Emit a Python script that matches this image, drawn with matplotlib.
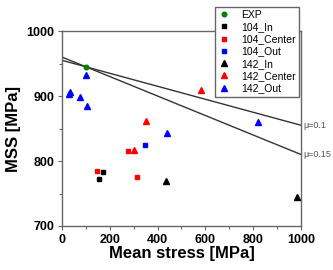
import matplotlib
matplotlib.use("Agg")
import matplotlib.pyplot as plt
from matplotlib.ticker import MultipleLocator

plt.rcParams['font.family'] = ['Liberation Sans', 'DejaVu Sans']

# data
exp_x = [100]
exp_y = [945]
in104_x = [156, 170]
in104_y = [773, 783]
center104_x = [148, 275, 312]
center104_y = [785, 816, 776]
out104_x = [349]
out104_y = [825]
in142_x = [434, 982]
in142_y = [770, 744]
center142_x = [303, 350, 582]
center142_y = [817, 862, 909]
out142_x = [30, 35, 77, 99, 106, 438, 819]
out142_y = [903, 906, 898, 932, 885, 843, 860]

line_x = [0, 1000]
mu01_y = [955, 855]
mu015_y = [960, 810]

fig = plt.figure(figsize=(3.33, 2.70), dpi=100)
ax = fig.add_axes([0.186, 0.163, 0.718, 0.722])

ms = 3.3
ax.plot(exp_x, exp_y, 'o', color='#008000', ms=ms, label='EXP', zorder=3)
ax.plot(in104_x, in104_y, 's', color='black', ms=ms, label='104_In', zorder=3)
ax.plot(center104_x, center104_y, 's', color='red', ms=ms, label='104_Center', zorder=3)
ax.plot(out104_x, out104_y, 's', color='blue', ms=ms, label='104_Out', zorder=3)
ax.plot(in142_x, in142_y, '^', color='black', ms=ms + 0.7, label='142_In', zorder=3)
ax.plot(center142_x, center142_y, '^', color='red', ms=ms + 0.7, label='142_Center', zorder=3)
ax.plot(out142_x, out142_y, '^', color='blue', ms=ms + 0.7, label='142_Out', zorder=3)

ax.plot(line_x, mu01_y, color='#333333', lw=1.0, zorder=2)
ax.plot(line_x, mu015_y, color='#333333', lw=1.0, zorder=2)
ax.text(1008, mu01_y[1], '\u03bc=0.1', fontsize=6.5, color='#555555',
        va='center', ha='left', clip_on=False)
ax.text(1008, mu015_y[1], '\u03bc=0.15', fontsize=6.5, color='#555555',
        va='center', ha='left', clip_on=False)

ax.set_xlim(0, 1000)
ax.set_ylim(700, 1000)
ax.xaxis.set_major_locator(MultipleLocator(200))
ax.xaxis.set_minor_locator(MultipleLocator(100))
ax.yaxis.set_major_locator(MultipleLocator(100))
ax.yaxis.set_minor_locator(MultipleLocator(50))
for s in ax.spines.values():
    s.set_color('#666666')
    s.set_linewidth(1.0)
ax.tick_params(which='major', length=3, width=0.8, color='#666666', labelsize=9, pad=2.5)
ax.tick_params(which='minor', length=2, width=0.8, color='#666666')
for lab in ax.get_xticklabels() + ax.get_yticklabels():
    lab.set_fontweight('bold')

ax.set_xlabel('Mean stress [MPa]', fontsize=12, fontweight='bold', labelpad=0.5)
ax.set_ylabel('MSS [MPa]', fontsize=12, fontweight='bold', labelpad=4)

leg = fig.legend(loc='upper right', bbox_to_anchor=(0.913, 0.995),
                 fontsize=7.5, frameon=True, fancybox=False, edgecolor='#666666',
                 framealpha=1, handlelength=1.2, handletextpad=1.0,
                 labelspacing=0.22, borderpad=0.3)
leg.get_frame().set_linewidth(1.0)

fig.savefig('out.png', dpi=100)
